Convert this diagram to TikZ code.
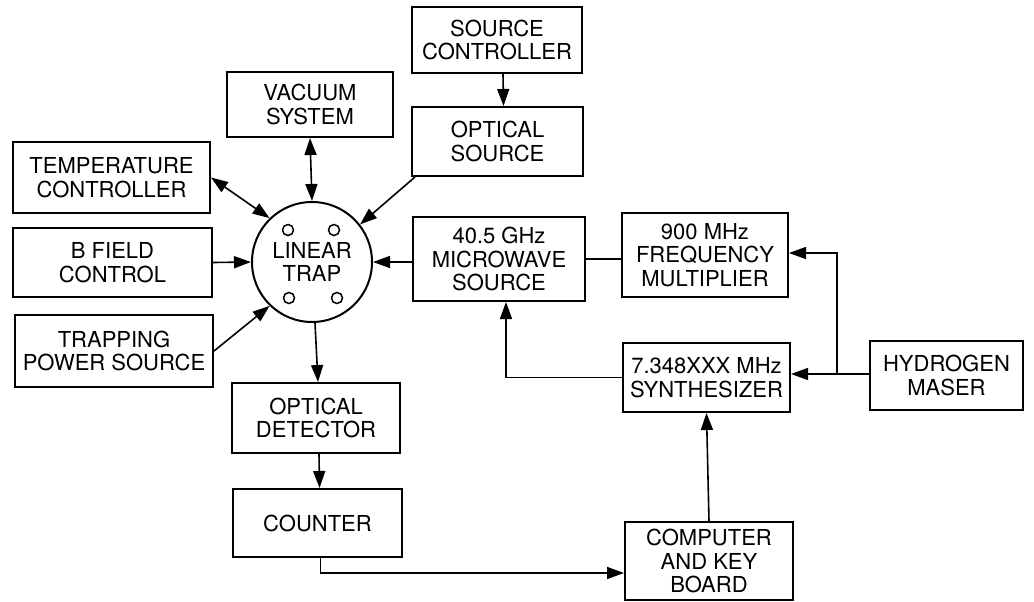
\documentclass[tikz,border=0pt]{standalone}
\usepackage{fontspec}
\setmainfont{TeX Gyre Heros}
\usetikzlibrary{arrows.meta,calc}
\tikzset{
  blk/.style={draw, line width=2pt, inner sep=0pt, align=center,
    font=\fontsize{22}{23.5}\selectfont},
  conn/.style={line width=1.6pt},
  arr/.style={conn, -{Triangle[length=17pt,width=12pt]}},
  barr/.style={conn, {Triangle[length=17pt,width=12pt]}-{Triangle[length=17pt,width=12pt]}},
  hole/.style={draw, line width=1.5pt, circle, minimum size=11pt, inner sep=0pt}
}
\begin{document}
\begin{tikzpicture}[x=1pt,y=-1pt]
\useasboundingbox (0,0) rectangle (1034,602);
% boxes
\node[blk, minimum width=197pt, minimum height=71pt] (tc) at (111.5,177.5) {TEMPERATURE\\CONTROLLER};
\node[blk, minimum width=199pt, minimum height=69pt] (bf) at (112.5,262.5) {B FIELD\\CONTROL};
\node[blk, minimum width=198pt, minimum height=72pt] (tp) at (114,351) {TRAPPING\\POWER SOURCE};
\node[blk, minimum width=166pt, minimum height=65pt] (vs) at (310,104.5) {VACUUM\\SYSTEM};
\node[blk, minimum width=170pt, minimum height=66pt] (sc) at (497,40) {SOURCE\\CONTROLLER};
\node[blk, minimum width=171pt, minimum height=69pt] (os) at (497.5,141.5) {OPTICAL\\SOURCE};
\node[blk, minimum width=172pt, minimum height=84pt] (mw) at (499,259) {40.5 GHz\\MICROWAVE\\SOURCE};
\node[blk, minimum width=166pt, minimum height=84pt] (fm) at (705,255) {900 MHz\\FREQUENCY\\MULTIPLIER};
\node[blk, minimum width=167pt, minimum height=69pt] (sy) at (706.5,377.5) {7.348XXX MHz\\SYNTHESIZER};
\node[blk, minimum width=153pt, minimum height=69pt] (hm) at (946.5,375.5) {HYDROGEN\\MASER};
\node[blk, minimum width=168pt, minimum height=70pt] (od) at (316,418) {OPTICAL\\DETECTOR};
\node[blk, minimum width=169pt, minimum height=68pt] (co) at (317.5,523) {COUNTER};
\node[blk, minimum width=168pt, minimum height=78pt] (ck) at (709,561) {COMPUTER\\AND KEY\\BOARD};
% trap
\node[blk, circle, minimum size=120pt] (trap) at (312,262) {LINEAR\\TRAP};
\node[hole] (h1) at (288,230) {};
\node[hole] (h2) at (334,230) {};
\node[hole] (h3) at (289,298) {};
\node[hole] (h4) at (337,298) {};
% connectors
\draw[barr] (tc.east) -- (trap.134);
\draw[barr] (vs.south) -- (trap.north);
\draw[arr] ([xshift=4pt]os.south west) -- (trap.38);
\draw[arr] (bf.east) -- (trap.west);
\draw[arr] (tp.east) -- (trap.226);
\draw[arr] (mw.west |- trap.east) -- (trap.east);
\draw[arr] ([xshift=6pt]sc.south) -- ([xshift=6pt]os.north);
\draw[conn] (mw.east) -- (fm.west |- mw.east);
\coordinate (j) at (837,374);
\draw[arr] (hm.west |- j) -- (sy.east |- j);
\draw[arr] (j) |- ([yshift=2pt]fm.east);
\draw[arr] (sy.west) -| ([xshift=7pt]mw.south);
\draw[arr] ([xshift=3pt]trap.south) -- ([xshift=2pt]od.north);
\draw[arr] ([xshift=3pt]od.south) -- ([xshift=2pt]co.north);
\draw[arr] ([xshift=3pt]co.south) |- ([yshift=-12pt]ck.west);
\draw[arr] (ck.north) -- (sy.south);
\end{tikzpicture}
\end{document}
